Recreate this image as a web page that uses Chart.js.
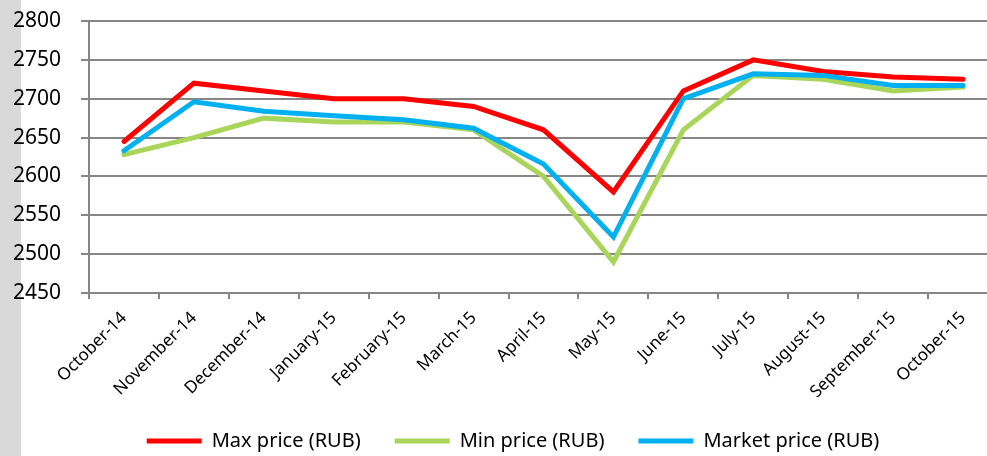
<!DOCTYPE html>
<html>
<head>
<meta charset="utf-8">
<script src="https://cdn.jsdelivr.net/npm/chart.js@4"></script>
<style>
  html, body { margin: 0; padding: 0; overflow: hidden; }
  body { width: 987px; height: 456px; background: linear-gradient(to right, #d9d9d9 21px, #ffffff 21px); }
  canvas { display: block; }
</style>
</head>
<body>
<canvas id="priceChart" width="1024" height="461"></canvas>
<script>
const months = ['October-14', 'November-14', 'December-14', 'January-15', 'February-15', 'March-15',
  'April-15', 'May-15', 'June-15', 'July-15', 'August-15', 'September-15', 'October-15'];
const maxPrice = [2645, 2720, 2710, 2700, 2700, 2690, 2660, 2580, 2710, 2750, 2735, 2728, 2725];
const minPrice = [2628, 2650, 2675, 2670, 2670, 2660, 2600, 2490, 2660, 2730, 2725, 2710, 2715];
const marketPrice = [2633, 2696, 2684, 2678, 2673, 2662, 2616, 2522, 2700, 2732, 2730, 2717, 2717];

const FONT = "'Noto Sans', 'DejaVu Sans', sans-serif";
const axisGrey = '#868686';

function series(label, data, color, order) {
  return {
    label: label,
    data: data,
    borderColor: color,
    backgroundColor: color,
    borderWidth: 5,
    borderCapStyle: 'round',
    pointRadius: 0,
    pointStyle: 'line',
    tension: 0,
    fill: false,
    order: order
  };
}

new Chart(document.getElementById('priceChart'), {
  type: 'line',
  data: {
    labels: months,
    datasets: [
      series('Max price (RUB)', maxPrice, '#ff0000', 3),
      series('Min price (RUB)', minPrice, '#a9d65a', 2),
      series('Market price (RUB)', marketPrice, '#00b0f0', 1)
    ]
  },
  options: {
    responsive: false,
    animation: false,
    layout: { padding: { top: 21, left: 28, right: 26, bottom: 0 } },
    plugins: {
      tooltip: { enabled: false },
      legend: {
        position: 'bottom',
        labels: {
          sort: (a, b) => a.datasetIndex - b.datasetIndex,
          usePointStyle: true,
          pointStyle: 'line',
          pointStyleWidth: 55,
          padding: 34,
          color: '#000',
          font: { family: FONT, size: 20 }
        }
      }
    },
    scales: {
      x: {
        offset: true,
        grid: { offset: true, drawOnChartArea: false, drawTicks: true, tickLength: 6, color: axisGrey, lineWidth: 2 },
        border: { display: true, color: axisGrey, width: 2 },
        ticks: {
          minRotation: 45, maxRotation: 45, autoSkip: false, padding: 9,
          color: '#000',
          font: { family: FONT, size: 17 }
        },
        afterFit: (scale) => { scale.height = 104; }
      },
      y: {
        min: 2450,
        max: 2800,
        grid: { color: axisGrey, lineWidth: 2, tickLength: 8 },
        border: { display: true, color: axisGrey, width: 2 },
        ticks: {
          stepSize: 50,
          // labels sit left of the axis box, so draw them unclipped
          mirror: true,
          padding: -76,
          color: '#000',
          font: { family: FONT, size: 21 },
          callback: (v) => String(v)
        },
        afterFit: (scale) => { scale.width = 61; }
      }
    }
  }
});
</script>
</body>
</html>
